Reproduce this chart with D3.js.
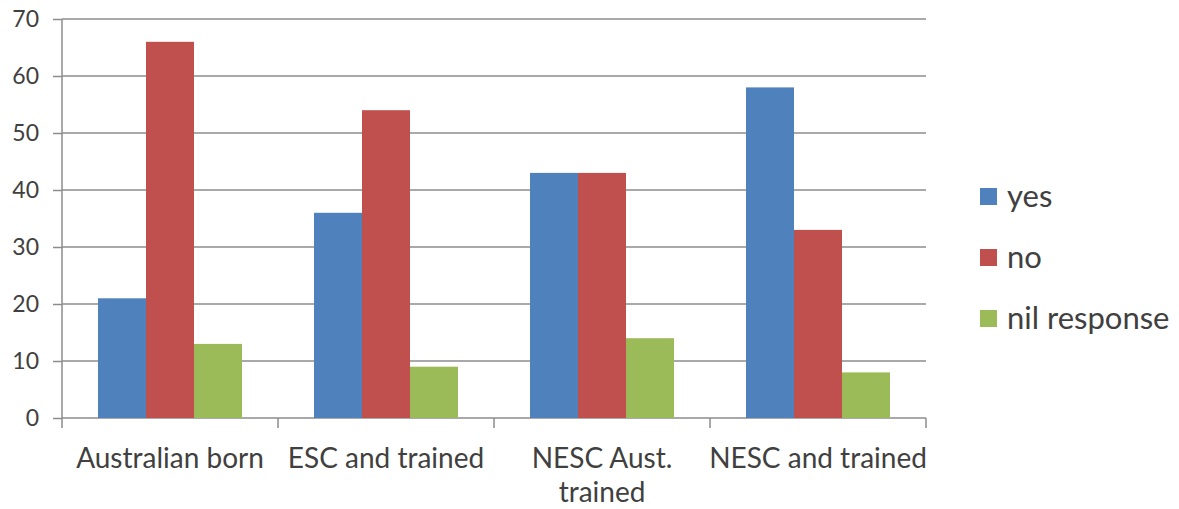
<!DOCTYPE html>
<html>
<head>
<meta charset="utf-8">
<script src="https://cdn.jsdelivr.net/npm/d3@7"></script>
<style>
  body { margin: 0; background: #fff; }
  text { font-family: Lato, "Open Sans", sans-serif; fill: #404040; }
</style>
</head>
<body>
<div id="chart"></div>
<script>
// Data
const categories = ["Australian born", "ESC and trained", "NESC Aust. trained", "NESC and trained"];
const series = ["yes", "no", "nil response"];
const yesValues = [21, 36, 43, 58];
const noValues = [66, 54, 43, 33];
const nilValues = [13, 9, 14, 8];
const yTicks = [0, 10, 20, 30, 40, 50, 60, 70];
const colors = ["#4F81BD", "#C0504D", "#9BBB59"];

const seriesValues = [yesValues, noValues, nilValues];

const W = 1179, H = 509;
let margin = { top: 19, right: 253, bottom: 91, left: 62 },
    width = W - margin.left - margin.right,
    height = H - margin.top - margin.bottom;

let svg = d3.select("#chart").append("svg")
    .attr("width", W)
    .attr("height", H)
  .append("g")
    .attr("transform", "translate(" + margin.left + "," + margin.top + ")");

// Scales
let x0 = d3.scaleBand()
    .domain(categories)
    .range([0, width]);

let x1 = d3.scaleBand()
    .domain(series)
    .range([0, x0.bandwidth()])
    .paddingOuter(0.75);

let y = d3.scaleLinear()
    .domain([0, 70])
    .range([height, 0]);

let color = d3.scaleOrdinal().domain(series).range(colors);

// Gridlines
svg.append("g")
    .selectAll("line")
    .data(yTicks.slice(1))
    .join("line")
    .attr("x1", 0)
    .attr("x2", width)
    .attr("y1", d => y(d))
    .attr("y2", d => y(d))
    .style("stroke", "#8c8c8c")
    .style("stroke-width", "1.5px");

// y axis
let yAxis = d3.axisLeft(y)
    .tickValues(yTicks)
    .tickSize(9)
    .tickPadding(14);

let yAxisEl = svg.append("g").attr("class", "y axis").call(yAxis);
yAxisEl.select(".domain").remove();
yAxisEl.append("line")
    .attr("x1", 0).attr("x2", 0)
    .attr("y1", 0).attr("y2", height);
yAxisEl.selectAll("line").style("stroke", "#8c8c8c").style("stroke-width", "1.5px");
yAxisEl.selectAll("text")
    .style("font-size", "23px")
    .style("font-family", "Lato, sans-serif")
    .style("fill", "#404040");

// x axis
let xAxisEl = svg.append("g")
    .attr("class", "x axis")
    .attr("transform", "translate(0," + height + ")");

xAxisEl.append("line")
    .attr("x1", 0).attr("x2", width)
    .attr("y1", 0).attr("y2", 0);

xAxisEl.selectAll(".cattick")
    .data(d3.range(categories.length + 1))
    .join("line")
    .attr("class", "cattick")
    .attr("x1", i => i * x0.step())
    .attr("x2", i => i * x0.step())
    .attr("y1", 0)
    .attr("y2", 10);

xAxisEl.selectAll("line").style("stroke", "#8c8c8c").style("stroke-width", "1.5px");

// Category labels (wrap the long one like the original)
const labelLines = { "NESC Aust. trained": ["NESC Aust.", "trained"] };
xAxisEl.selectAll(".catlabel")
    .data(categories)
    .join("text")
    .attr("class", "catlabel")
    .attr("text-anchor", "middle")
    .attr("x", d => x0(d) + x0.bandwidth() / 2)
    .attr("y", 50)
    .style("font-size", "28px")
    .each(function(d) {
        const lines = labelLines[d] || [d];
        d3.select(this).selectAll("tspan")
            .data(lines)
            .join("tspan")
            .attr("x", x0(d) + x0.bandwidth() / 2)
            .attr("dy", (l, i) => i === 0 ? 0 : 34)
            .text(l => l);
    });

// Bars
let groups = svg.append("g")
    .selectAll("g")
    .data(categories)
    .join("g")
    .attr("transform", d => "translate(" + x0(d) + ",0)");

groups.selectAll("rect")
    .data((d, ci) => series.map((s, si) => ({ key: s, value: seriesValues[si][ci] })))
    .join("rect")
    .attr("x", d => x1(d.key))
    .attr("width", x1.bandwidth())
    .attr("y", d => y(d.value))
    .attr("height", d => height - y(d.value))
    .attr("fill", d => color(d.key));

// Legend
let legend = svg.append("g")
    .attr("id", "legend")
    .attr("transform", "translate(" + (918 - margin.left) + "," + (197 - margin.top) + ")");

let legItem = legend.selectAll(".legitem")
    .data(series)
    .join("g")
    .attr("class", "legitem")
    .attr("transform", (d, i) => "translate(0," + i * 61 + ")");

legItem.append("rect")
    .attr("x", 62)
    .attr("y", -9)
    .attr("width", 17)
    .attr("height", 17)
    .attr("fill", d => color(d));

legItem.append("text")
    .attr("x", 89)
    .attr("y", 10)
    .style("font-size", "31px")
    .text(d => d);
</script>
</body>
</html>
